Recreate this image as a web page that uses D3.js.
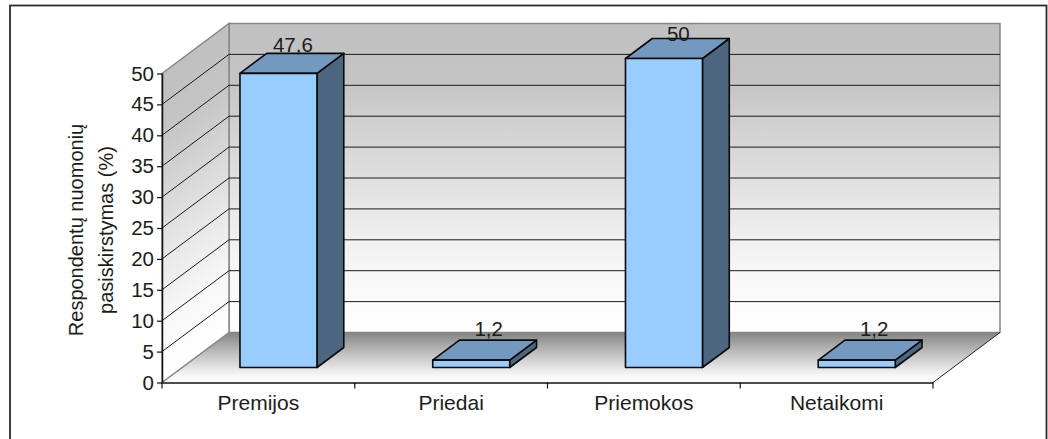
<!DOCTYPE html>
<html>
<head>
<meta charset="utf-8">
<script src="https://cdn.jsdelivr.net/npm/d3@7"></script>
<style>
html,body{margin:0;padding:0;background:#fff;overflow:hidden}
svg{display:block}
text{font-family:"Liberation Sans",Arial,sans-serif;fill:#1c1c1c}
</style>
</head>
<body>
<svg id="chart" width="1048" height="439"></svg>
<script>
// Survey results
const categories = ["Premijos", "Priedai", "Priemokos", "Netaikomi"];
const values = [47.6, 1.2, 50, 1.2];
const valueLabels = ["47,6", "1,2", "50", "1,2"];
const yTicks = [0, 5, 10, 15, 20, 25, 30, 35, 40, 45, 50];
const titleLines = ["Respondentų nuomonių", "pasiskirstymas (%)"];

const svg = d3.select("#chart");
const FONT = 20.5;
const CATEGORY_FONT = 21;
const TITLE_FONT = 20;
const INK = "#1c1c1c";

// Front plane of the 3D box and the depth vector running to the back wall
const plot = {left: 162, right: 933, top: 73.5, bottom: 382.5};
const depth = {dx: 67, dy: -50};
const barDepth = {near: 0.3, far: 0.7};

const x = d3.scaleBand().domain(categories).range([plot.left, plot.right]).paddingInner(0).paddingOuter(0);
const y = d3.scaleLinear().domain([0, 50]).range([plot.bottom, plot.top]);
const proj = (px, py, t) => [px + depth.dx * t, py + depth.dy * t];
const poly = pts => pts.map(p => p.join(",")).join(" ");

// Wall and floor shading
const defs = svg.append("defs");
const slope = depth.dy / depth.dx;
const wallStops = [[0, "#c0c0c0"], [0.18, "#c4c4c4"], [0.6, "#e8e8e8"], [0.8, "#f7f7f7"], [1, "#ffffff"]];
const addGradient = (id, y1, y2, stops, transform) => {
  const g = defs.append("linearGradient").attr("id", id)
    .attr("gradientUnits", "userSpaceOnUse")
    .attr("x1", 0).attr("x2", 0).attr("y1", y1).attr("y2", y2);
  if (transform) g.attr("gradientTransform", transform);
  stops.forEach(s => g.append("stop").attr("offset", s[0]).attr("stop-color", s[1]));
};
const backTop = proj(plot.left, y(50), 1)[1];
const backBottom = proj(plot.left, y(0), 1)[1];
addGradient("wallBack", backTop, backBottom, wallStops);
const backX = plot.left + depth.dx;
addGradient("wallSide", backTop, backBottom, wallStops, `matrix(1,${slope},0,1,0,${-slope * backX})`);
addGradient("floor", backBottom, plot.bottom, [[0, "#858585"], [0.45, "#c4c4c4"], [0.85, "#f6f6f6"], [1, "#fdfdfd"]]);

const wallStroke = "#868686";

// Floor
svg.append("polygon")
  .attr("points", poly([[plot.left, y(0)], [plot.right, y(0)], proj(plot.right, y(0), 1), proj(plot.left, y(0), 1)]))
  .attr("fill", "url(#floor)");

// Back wall
svg.append("polygon")
  .attr("points", poly([proj(plot.left, y(50), 1), proj(plot.right, y(50), 1), proj(plot.right, y(0), 1), proj(plot.left, y(0), 1)]))
  .attr("fill", "url(#wallBack)").attr("stroke", wallStroke).attr("stroke-width", 1.5);

// Side wall
svg.append("polygon")
  .attr("points", poly([[plot.left, y(50)], proj(plot.left, y(50), 1), proj(plot.left, y(0), 1), [plot.left, y(0)]]))
  .attr("fill", "url(#wallSide)").attr("stroke", wallStroke).attr("stroke-width", 1.5);

// Gridlines wrap from the axis across the side wall and along the back wall
svg.append("g").selectAll("polyline")
  .data(yTicks.filter(t => t > 0 && t < 50))
  .join("polyline")
  .attr("points", t => poly([[plot.left, y(t)], proj(plot.left, y(t), 1), proj(plot.right, y(t), 1)]))
  .attr("fill", "none").attr("stroke", "#1a1a1a").attr("stroke-width", 1);

// Floor edge on the right
svg.append("line")
  .attr("x1", plot.right).attr("y1", y(0))
  .attr("x2", proj(plot.right, y(0), 1)[0]).attr("y2", proj(plot.right, y(0), 1)[1])
  .attr("stroke", "#222").attr("stroke-width", 1);

// Value axis
const yAxis = svg.append("g")
  .attr("transform", `translate(${plot.left},0)`)
  .call(d3.axisLeft(y).tickValues(yTicks).tickSize(5).tickPadding(3));
yAxis.select(".domain").attr("stroke", "#111").attr("stroke-width", 1.5).attr("d", `M0.5,${y(50)}V${y(0)}`);
yAxis.selectAll(".tick line").attr("stroke", "#111").attr("stroke-width", 1.2);
yAxis.selectAll("text").attr("font-size", FONT).attr("fill", INK).style("font-family", "'Liberation Sans',Arial,sans-serif");

// Category axis
const xAxis = svg.append("g")
  .attr("transform", `translate(0,${plot.bottom})`)
  .call(d3.axisBottom(x).tickSize(0).tickPadding(13));
xAxis.select(".domain").attr("stroke", "#111").attr("stroke-width", 1.5).attr("d", `M${plot.left},0.5H${plot.right}`);
xAxis.selectAll("text").attr("font-size", CATEGORY_FONT).attr("fill", INK).style("font-family", "'Liberation Sans',Arial,sans-serif");
xAxis.selectAll("line.sep")
  .data(d3.range(categories.length + 1))
  .join("line").attr("class", "sep")
  .attr("x1", i => plot.left + x.step() * i).attr("x2", i => plot.left + x.step() * i)
  .attr("y1", 0).attr("y2", 6)
  .attr("stroke", "#111").attr("stroke-width", 1.2);

// 3D bars: each one sits in the middle of the floor's depth
const barW = 77;
const bars = svg.append("g").selectAll("g").data(categories.map((c, i) => ({c, v: values[i], label: valueLabels[i]})))
  .join("g");

const corner = (d, side, level, t) => {
  const cx = x(d.c) + x.bandwidth() / 2;
  return proj(cx + side * barW / 2, y(level), t);
};
const barStroke = {stroke: "#0a0a0a", "stroke-width": 1.6, "stroke-linejoin": "round"};
const applyStroke = sel => { Object.entries(barStroke).forEach(([k, v]) => sel.attr(k, v)); return sel; };

// Right-hand face
bars.append("polygon").call(applyStroke).attr("fill", "#4d6680")
  .attr("points", d => poly([corner(d, 1, d.v, barDepth.near), corner(d, 1, d.v, barDepth.far), corner(d, 1, 0, barDepth.far), corner(d, 1, 0, barDepth.near)]));
// Top face
bars.append("polygon").call(applyStroke).attr("fill", "#7399c0")
  .attr("points", d => poly([corner(d, -1, d.v, barDepth.near), corner(d, -1, d.v, barDepth.far), corner(d, 1, d.v, barDepth.far), corner(d, 1, d.v, barDepth.near)]));
// Front face
bars.append("polygon").call(applyStroke).attr("fill", "#99ccff")
  .attr("points", d => poly([corner(d, -1, d.v, barDepth.near), corner(d, 1, d.v, barDepth.near), corner(d, 1, 0, barDepth.near), corner(d, -1, 0, barDepth.near)]));

// Value labels centred over the top face, just above its back edge
const labelLift = [1.5, 4, -2, 4];
const labelShift = [1, 4, 1, 4];
const labelDepth = (barDepth.near + barDepth.far) / 2;
bars.append("text")
  .attr("text-anchor", "middle").attr("font-size", FONT)
  .attr("x", (d, i) => corner(d, 0, d.v, labelDepth)[0] + labelShift[i])
  .attr("y", (d, i) => corner(d, 0, d.v, barDepth.far)[1] - labelLift[i])
  .text(d => d.label);

// Axis title, two rotated lines
const title = svg.append("text")
  .attr("transform", "translate(83,230) rotate(-90)")
  .attr("text-anchor", "middle").attr("font-size", TITLE_FONT);
title.selectAll("tspan").data(titleLines).join("tspan")
  .attr("x", 0).attr("dy", (d, i) => i === 0 ? 0 : 30).text(d => d);

// Outer frame, open past the lower edge of the canvas
svg.append("rect")
  .attr("x", 10).attr("y", 5.5).attr("width", 1036.5).attr("height", 460)
  .attr("fill", "none").attr("stroke", "#2b2b2b").attr("stroke-width", 1.8);
</script>
</body>
</html>
